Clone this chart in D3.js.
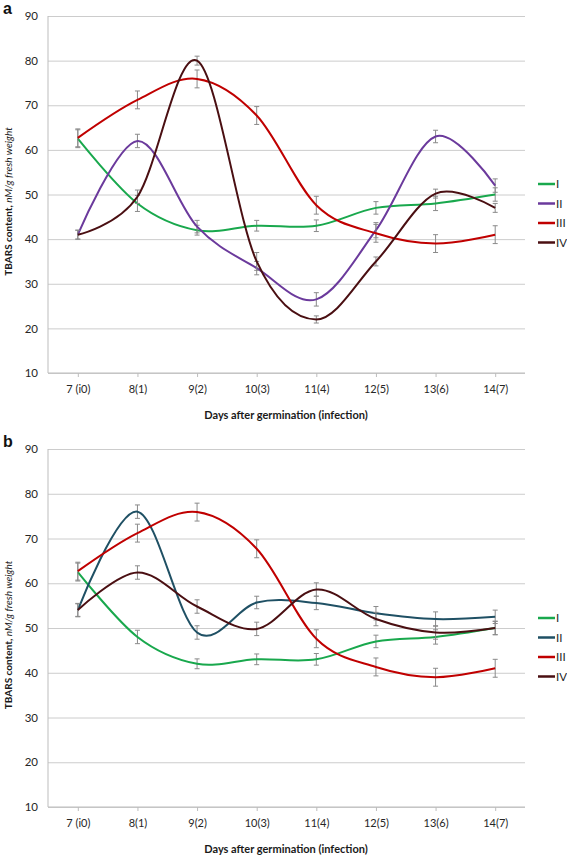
<!DOCTYPE html>
<html><head><meta charset="utf-8">
<script src="https://cdn.jsdelivr.net/npm/d3@7"></script>
<style>body{margin:0;background:#fff}svg{display:block}</style>
</head><body>
<svg id="c" width="567" height="857"></svg>
<script>
const categories = ["7 (i0)","8(1)","9(2)","10(3)","11(4)","12(5)","13(6)","14(7)"];
const yTicks = [10,20,30,40,50,60,70,80,90];
const seriesNames = ["I","II","III","IV"];

// Panel a
const a_I   = [62.5, 48, 42, 43, 43, 47, 48, 50];
const a_II  = [41, 62, 42.8, 33.5, 26.5, 42, 63, 52];
const a_III = [62.7, 71.2, 75.9, 67.7, 47.6, 41.3, 39, 41];
const a_IV  = [41, 49.5, 80, 35, 22, 35, 50.2, 47];
const a_errI   = [2, 1.8, 1.1, 1.2, 1.3, 1.4, 1.6, 1.5];
const a_errII  = [1, 1.5, 1.4, 1.5, 1.5, 1.7, 1.4, 1.5];
const a_errIII = [2, 2, 2, 2, 2, 2, 2, 2];
const a_errIV  = [1, 1.5, 1, 2, 0.8, 1, 1, 1];

// Panel b
const b_I   = [62.5, 48, 42, 43, 43, 47, 48, 50];
const b_II  = [54, 76, 49, 55.7, 55.6, 53.3, 52, 52.5];
const b_III = [62.7, 71.2, 75.9, 67.7, 47.6, 41.3, 39, 41];
const b_IV  = [54, 62.4, 54.8, 49.8, 58.6, 52, 49, 50];
const b_errI   = [2, 1.5, 1.1, 1.2, 1.3, 1.4, 1.6, 1.5];
const b_errII  = [1.4, 1.5, 1.5, 1.4, 1.5, 1.5, 1.6, 1.5];
const b_errIII = [2, 2, 2, 2, 2, 2, 2, 2];
const b_errIV  = [1.5, 1.5, 1.5, 1.5, 1.5, 1.5, 1.5, 1.5];

const colorsA = ["#19a84d", "#6b3a9c", "#c00000", "#4a0f12"];
const colorsB = ["#19a84d", "#1f5064", "#c00000", "#4a0f12"];

const svg = d3.select("#c");
const FONT = "Lato, 'Liberation Sans', sans-serif";
const x = d3.scalePoint().domain(categories).range([48, 525]).padding(0.5);

function panel(letter, top, bottom, vals, errs, colors, legendY) {
  const y = d3.scaleLinear().domain([10, 90]).range([bottom, top]);
  const g = svg.append("g");
  // gridlines
  g.append("g").attr("transform", "translate(48,0)")
    .call(d3.axisLeft(y).tickValues(yTicks).tickSize(-477).tickFormat(""))
    .call(s => s.select(".domain").remove())
    .call(s => s.selectAll("line").attr("stroke", "#cccccc").attr("stroke-width", 1));
  // y axis line + labels
  g.append("line").attr("x1", 48).attr("x2", 48).attr("y1", y(90)).attr("y2", y(10)).attr("stroke", "#bdbdbd");
  g.append("g").attr("transform", "translate(48,0)")
    .call(d3.axisLeft(y).tickValues(yTicks).tickSize(0).tickPadding(10))
    .call(s => s.select(".domain").remove())
    .call(s => s.selectAll("text").attr("font-family", FONT).attr("font-size", 11.5).attr("fill", "#262626"));
  // x axis
  g.append("g").attr("transform", `translate(0,${bottom})`)
    .call(d3.axisBottom(x).tickSize(4).tickPadding(8))
    .call(s => s.select(".domain").attr("stroke", "#bdbdbd").attr("d", `M48,0H525`))
    .call(s => s.selectAll("line").attr("stroke", "#bdbdbd"))
    .call(s => s.selectAll("text").attr("font-family", FONT).attr("font-size", 11).attr("fill", "#262626"));
  // x title
  g.append("text").attr("x", 286).attr("y", bottom + 46).attr("text-anchor", "middle")
    .attr("font-family", FONT).attr("font-weight", "bold").attr("font-size", 11).attr("fill", "#1a1a1a")
    .text("Days after germination (infection)");
  // y title
  const yt = g.append("text").attr("transform", `translate(12,${(top + bottom) / 2 + 7}) rotate(-90)`)
    .attr("text-anchor", "middle").attr("font-family", FONT).attr("font-size", 10).attr("fill", "#1a1a1a");
  yt.append("tspan").attr("font-weight", "bold").text("TBARS content, ");
  yt.append("tspan").attr("font-style", "italic").text("nM/g fresh weight");
  // panel letter
  g.append("text").attr("x", 3).attr("y", top - 2).attr("font-family", "'Liberation Sans', Arial, sans-serif")
    .attr("font-weight", "bold").attr("font-size", 16).attr("fill", "#111").text(letter);

  const line = d3.line().x((d, i) => x(categories[i])).y(d => y(d)).curve(d3.curveCardinal.tension(0));
  vals.forEach((v, si) => {
    const sg = g.append("g");
    // error bars
    v.forEach((d, i) => {
      const cx = x(categories[i]), e = errs[si][i];
      sg.append("path")
        .attr("d", `M${cx},${y(d - e)}V${y(d + e)}M${cx - 2.5},${y(d - e)}H${cx + 2.5}M${cx - 2.5},${y(d + e)}H${cx + 2.5}`)
        .attr("stroke", "#8a8a8a").attr("stroke-width", 1).attr("fill", "none");
    });
    sg.append("path").datum(v).attr("d", line).attr("fill", "none")
      .attr("stroke", colors[si]).attr("stroke-width", 2);
  });
  // legend
  seriesNames.forEach((n, i) => {
    const ly = legendY + i * 19.5;
    g.append("line").attr("x1", 538).attr("x2", 555).attr("y1", ly).attr("y2", ly)
      .attr("stroke", colors[i]).attr("stroke-width", 2.5);
    g.append("text").attr("x", 556).attr("y", ly + 4).attr("font-family", FONT).attr("font-size", 11.5)
      .attr("fill", "#262626").text(n);
  });
}

panel("a", 16, 373, [a_I, a_II, a_III, a_IV], [a_errI, a_errII, a_errIII, a_errIV], colorsA, 184);
panel("b", 449, 807, [b_I, b_II, b_III, b_IV], [b_errI, b_errII, b_errIII, b_errIV], colorsB, 618);
</script>
</body></html>
